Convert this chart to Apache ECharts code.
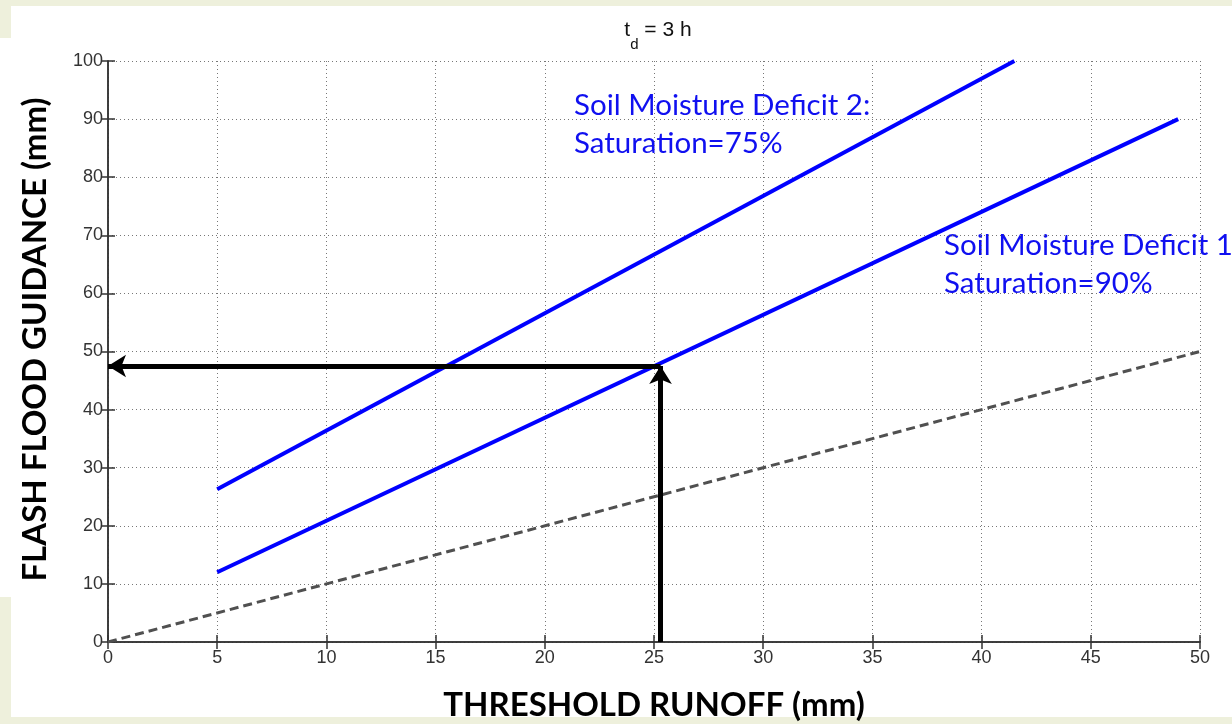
<!DOCTYPE html>
<html>
<head>
<meta charset="utf-8">
<script src="https://cdn.jsdelivr.net/npm/echarts@6/dist/echarts.min.js"></script>
<style>
html,body{margin:0;padding:0;background:#fff;}
#c{width:1232px;height:724px;}
</style>
</head>
<body>
<div id="c"></div>
<script>
// ---- data ----
const xTicks = [0,5,10,15,20,25,30,35,40,45,50];
const yTicks = [0,10,20,30,40,50,60,70,80,90,100];
const refX = [0, 50];            // 1:1 dashed reference
const refY = [0, 50];
const deficit1X = [5, 49];       // Saturation=90%
const deficit1Y = [12, 90];
const deficit2X = [5, 41.5];     // Saturation=75%
const deficit2Y = [26.3, 100];
const arrowRunoff = 25.3;        // threshold runoff read-off
const arrowGuidance = 47.5;      // resulting flash flood guidance
const titleMain = 't';
const titleSub = 'd';
const titleRest = ' = 3 h';
const xTitle = 'THRESHOLD RUNOFF (mm)';
const yTitle = 'FLASH FLOOD GUIDANCE (mm)';
const label2 = ['Soil Moisture Deficit 2:', 'Saturation=75%'];
const label1 = ['Soil Moisture Deficit 1', 'Saturation=90%'];

const zip = (a, b) => a.map((v, i) => [v, b[i]]);

const chart = echarts.init(document.getElementById('c'), null, {renderer: 'canvas'});
const tickFont = {fontFamily: 'Liberation Sans', fontSize: 18, color: '#333'};
const split = {show: true, lineStyle: {color: '#777', type: [1, 3], width: 1}};
const axLine = {show: true, lineStyle: {color: '#333', width: 1.5}};
const tick = {show: true, inside: true, length: 7, lineStyle: {color: '#333', width: 1.5}};

const option = {
  animation: false,
  backgroundColor: '#ffffff',
  graphic: [
    {type: 'rect', shape: {x: 0, y: 0, width: 1232, height: 6}, style: {fill: '#eef0dc'}, z: -10},
    {type: 'rect', shape: {x: 0, y: 0, width: 11, height: 38}, style: {fill: '#eef0dc'}, z: -10},
    {type: 'rect', shape: {x: 0, y: 597, width: 11, height: 127}, style: {fill: '#eef0dc'}, z: -10},
    {type: 'rect', shape: {x: 0, y: 717, width: 1232, height: 7}, style: {fill: '#eef0dc'}, z: -10},
    {type: 'text', left: 574, top: 86, style: {text: label2.join('\n'), fill: '#1010f0', font: '29.5px Lato', lineHeight: 38}},
    {type: 'text', left: 944, top: 226, style: {text: label1.join('\n'), fill: '#1010f0', font: '29.5px Lato', lineHeight: 38}}
  ],
  title: {
    text: '{m|' + titleMain + '}{s|' + titleSub + '}{m|' + titleRest + '}',
    left: 653, top: 15, textAlign: 'center',
    textStyle: {
      rich: {
        m: {fontFamily: 'Liberation Sans', fontSize: 21, fontWeight: 'normal', color: '#111'},
        s: {fontFamily: 'Liberation Sans', fontSize: 15, fontWeight: 'normal', color: '#111', verticalAlign: 'bottom', padding: [0, 0, -11, 0]}
      }
    }
  },
  grid: {left: 108, right: 32, top: 61, bottom: 82, containLabel: false, outerBoundsMode: 'none'},
  xAxis: [
    {type: 'value', min: xTicks[0], max: xTicks[xTicks.length - 1], interval: 5, position: 'bottom',
     name: xTitle, nameLocation: 'middle', nameGap: 47,
     nameTextStyle: {fontFamily: 'Lato', fontWeight: 'bold', fontSize: 33, color: '#000'},
     axisLine: axLine, axisTick: tick, splitLine: split,
     axisLabel: Object.assign({margin: 7}, tickFont)},
    {type: 'value', min: xTicks[0], max: xTicks[xTicks.length - 1], interval: 5, position: 'top',
     axisLine: axLine, axisTick: tick, splitLine: {show: false}, axisLabel: {show: false}}
  ],
  yAxis: [
    {type: 'value', min: yTicks[0], max: yTicks[yTicks.length - 1], interval: 10, position: 'left',
     name: yTitle, nameLocation: 'middle', nameGap: 56,
     nameTextStyle: {fontFamily: 'Lato', fontWeight: 'bold', fontSize: 33, color: '#000', padding: [0, 0, 0, 24]},
     axisLine: axLine, axisTick: tick, splitLine: split,
     axisLabel: Object.assign({margin: 5}, tickFont)},
    {type: 'value', min: yTicks[0], max: yTicks[yTicks.length - 1], interval: 10, position: 'right',
     axisLine: axLine, axisTick: tick, splitLine: {show: false}, axisLabel: {show: false}}
  ],
  series: [
    {type: 'line', data: zip(refX, refY), showSymbol: false, symbol: 'none',
     lineStyle: {color: '#505050', width: 3, type: [9, 5]}, z: 3},
    {type: 'line', data: zip(deficit1X, deficit1Y), showSymbol: false, symbol: 'none',
     lineStyle: {color: '#0000ff', width: 4}, z: 4},
    {type: 'line', data: zip(deficit2X, deficit2Y), showSymbol: false, symbol: 'none',
     lineStyle: {color: '#0000ff', width: 4}, z: 4},
    {type: 'line', data: [], z: 5,
     markLine: {
       silent: true, symbol: ['none', 'arrow'], symbolSize: [17, 18],
       label: {show: false},
       lineStyle: {color: '#000', width: 5, type: 'solid'},
       data: [
         [{coord: [arrowRunoff, 0]}, {coord: [arrowRunoff, arrowGuidance]}],
         [{coord: [arrowRunoff, arrowGuidance]}, {coord: [0, arrowGuidance]}]
       ]
     }}
  ]
};
chart.setOption(option);
</script>
</body>
</html>
